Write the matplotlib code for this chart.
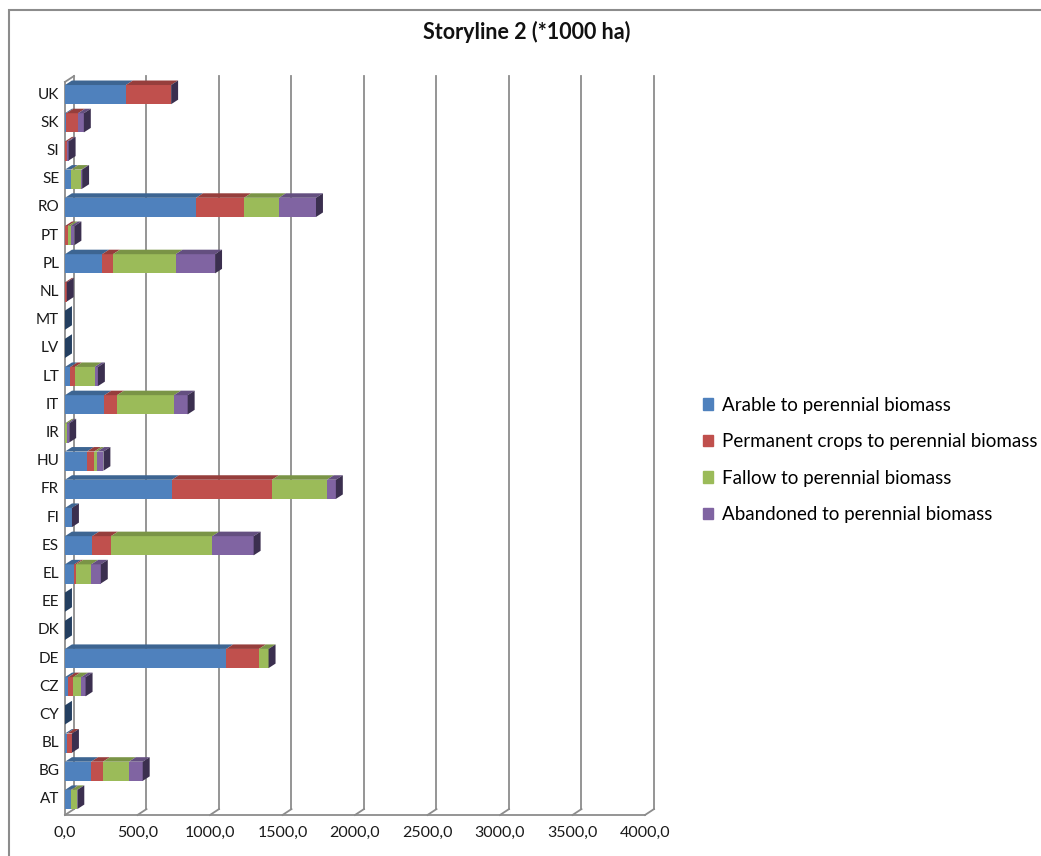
import numpy as np
import matplotlib.pyplot as plt
from matplotlib.patches import Polygon, Rectangle

plt.rcParams['font.family'] = ['Lato', 'DejaVu Sans']

countries = ['AT', 'BG', 'BL', 'CY', 'CZ', 'DE', 'DK', 'EE', 'EL', 'ES', 'FI', 'FR', 'HU',
             'IR', 'IT', 'LT', 'LV', 'MT', 'NL', 'PL', 'PT', 'RO', 'SE', 'SI', 'SK', 'UK']
arable = [41, 180, 14, 0, 23, 1112, 0, 0, 64, 187, 48, 737, 151,
          0, 272, 37, 0, 0, 0, 256, 0, 904, 40, 0, 10, 420]
permanent = [3, 82, 34, 0, 34, 226, 0, 0, 14, 130, 0, 690, 50,
             0, 87, 32, 0, 0, 12, 75, 20, 331, 3, 15, 80, 312]
fallow = [39, 178, 0, 0, 55, 66, 0, 0, 103, 699, 0, 379, 21,
          14, 393, 135, 0, 0, 0, 432, 20, 240, 70, 0, 0, 0]
abandoned = [2, 96, 0, 0, 30, 0, 0, 0, 66, 285, 0, 62, 43,
             15, 94, 23, 0, 0, 0, 272, 25, 256, 5, 10, 40, 0]

labels = ['Arable to perennial biomass', 'Permanent crops to perennial biomass',
          'Fallow to perennial biomass', 'Abandoned to perennial biomass']
series = [arable, permanent, fallow, abandoned]
colors = ['#4F81BD', '#C0504D', '#9BBB59', '#8064A2']
tops = ['#3D6592', '#963E3C', '#7A9446', '#644F80']
sides = ['#243F60', '#632523', '#4F6228', '#3B2F4F']
xticks = np.arange(0, 4001, 500)

# 3d offsets (data units)
D, DY = 62, 0.21       # floor / wall depth
BD, BDY = 48, 0.16     # bar depth
h = 0.68
y0, ytop = -0.55, 25.66

fig = plt.figure(figsize=(10.41, 8.56), dpi=100)
ax = fig.add_axes([65 / 1041, 1 - 815 / 856, 609 / 1041, (815 - 76) / 856])
ax.set_xlim(0, 4200)
ax.set_ylim(y0, ytop)
ax.axis('off')

gc = '#8C8C8C'
for v in xticks:
    ax.plot([v + D, v + D], [y0 + DY, ytop], color=gc, lw=1.3, clip_on=False, zorder=1)
    ax.plot([v, v + D], [y0, y0 + DY], color=gc, lw=1.3, clip_on=False, zorder=1)
    ax.text(v, y0 - 0.62, f'{v:.1f}'.replace('.', ','), ha='center', va='center',
            fontsize=11.5, color='#1a1a1a')
ax.plot([0, xticks[-1]], [y0, y0], color=gc, lw=1.3, clip_on=False, zorder=1)
ax.plot([0, 0], [y0, ytop - DY], color=gc, lw=1.3, clip_on=False, zorder=1)
ax.plot([0, D], [ytop - DY, ytop], color=gc, lw=1.3, clip_on=False, zorder=1)

ypos = np.arange(len(countries))
for i in ypos[::-1]:
    left = 0
    for k, vals in enumerate(series):
        w = vals[i]
        ax.barh(i, w, left=left, height=h, color=colors[k], zorder=3)
        if w > 0:
            ax.add_patch(Polygon([(left, i + h / 2), (left + w, i + h / 2),
                                  (left + w + BD, i + h / 2 + BDY), (left + BD, i + h / 2 + BDY)],
                                 closed=True, color=tops[k], zorder=3, lw=0))
        left += w
    total = left
    sc = sides[0] if total == 0 else sides[3]
    ax.add_patch(Polygon([(total, i - h / 2), (total, i + h / 2),
                          (total + BD, i + h / 2 + BDY), (total + BD, i - h / 2 + BDY)],
                         closed=True, color=sc, zorder=4, lw=0))
    ax.text(-40, i, countries[i], ha='right', va='center', fontsize=11, color='#1a1a1a')

handles = [Rectangle((0, 0), 1, 1, color=c) for c in colors]
fig.legend(handles, labels, loc='center left', bbox_to_anchor=(703 / 1041, 1 - 460 / 856),
           frameon=False, fontsize=13.5, handlelength=0.55, handleheight=0.55,
           handletextpad=0.45, labelspacing=1.04, borderpad=0, borderaxespad=0)

fig.text(527 / 1041, 1 - 32 / 856, 'Storyline 2 (*1000 ha)', ha='center', va='center',
         fontsize=15.5, fontweight='bold', color='#111111')

fig.patches.append(Rectangle((8.5 / 1041, -0.01), 1.1, 1 - 10 / 856 + 0.01, transform=fig.transFigure,
                             fill=False, edgecolor='#8C8C8C', lw=1.5))

fig.savefig('out.png', dpi=100)
